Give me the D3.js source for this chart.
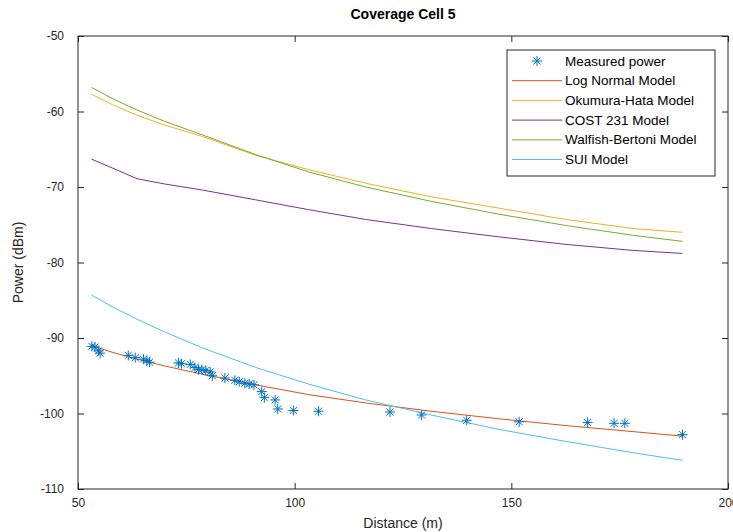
<!DOCTYPE html>
<html>
<head>
<meta charset="utf-8">
<script src="https://cdn.jsdelivr.net/npm/d3@7"></script>
<style>
  body { margin: 0; background: #fff; }
  svg text { font-family: "Liberation Sans", Arial, Helvetica, sans-serif; fill: #262626; }
</style>
</head>
<body>
<script>
// Coverage Cell 5 - measured power vs propagation models
const w = 733, h = 532

// measured samples (distance m, power dBm)
const measDist = [53.2, 53.9, 54.7, 55.1, 61.6, 63.2, 65.1, 65.9, 66.5, 73.2, 73.9, 75.9, 77.0, 77.8, 78.6,
                  79.5, 80.5, 81.0, 83.9, 86.2, 87.2, 88.5, 89.5, 90.6, 92.4, 93.0, 95.5, 96.1, 99.7, 105.5,
                  122.0, 129.3, 139.7, 151.8, 167.6, 173.7, 176.2, 189.5]
const measPower = [-91.1, -91.2, -91.7, -92.0, -92.3, -92.6, -92.8, -93.0, -93.2, -93.3, -93.4, -93.5, -93.9, -94.2, -94.2,
                   -94.3, -94.5, -95.0, -95.3, -95.6, -95.8, -96.0, -96.1, -96.2, -97.1, -97.9, -98.2, -99.4, -99.6, -99.7,
                   -99.8, -100.2, -100.9, -101.1, -101.2, -101.3, -101.3, -102.8]

// model curves, sampled at these distances
const modelDist = [53.1, 58, 63.6, 70, 78.7, 91.0, 103.2, 116.4, 131.5, 147.1, 162.6, 178.1, 189.5]
const logNormal = [-91.0, -91.9, -92.8, -93.7, -94.8, -96.2, -97.5, -98.6, -99.7, -100.7, -101.6, -102.4, -103.0]
const okumuraHata = [-57.7, -59.1, -60.5, -61.8, -63.3, -65.8, -67.7, -69.5, -71.3, -72.8, -74.3, -75.5, -76.0]
const cost231 = [-66.3, -67.5, -68.9, -69.6, -70.4, -71.7, -73.0, -74.3, -75.5, -76.6, -77.6, -78.4, -78.8]
const walfishBertoni = [-56.8, -58.3, -59.8, -61.3, -63.1, -65.7, -68.0, -70.0, -71.9, -73.6, -75.1, -76.4, -77.2]
const sui = [-84.3, -85.9, -87.5, -89.2, -91.3, -93.9, -96.1, -98.2, -100.2, -102.1, -103.7, -105.2, -106.2]

const xTicks = [50, 100, 150, 200]
const yTicks = [-50, -60, -70, -80, -90, -100, -110]

const models = [
  { name: "Log Normal Model", values: logNormal, color: "#D95319" },
  { name: "Okumura-Hata Model", values: okumuraHata, color: "#EDB120" },
  { name: "COST 231 Model", values: cost231, color: "#7E2F8E" },
  { name: "Walfish-Bertoni Model", values: walfishBertoni, color: "#77AC30" },
  { name: "SUI Model", values: sui, color: "#4DBEEE" }
]

const plotL = 78, plotR = 728, plotT = 36, plotB = 489

const svg = d3.select("body").append("svg")
  .attr("width", w)
  .attr("height", h)

const xScale = d3.scaleLinear().domain([50, 200]).range([plotL, plotR])
const yScale = d3.scaleLinear().domain([-110, -50]).range([plotB, plotT])

// plain hyphen minus like matlab
const fmt = (d) => String(d)

// axes, ticks pointing inward like matlab
svg.append("g")
  .attr("transform", "translate(0," + plotB + ")")
  .call(d3.axisBottom(xScale).tickValues(xTicks).tickFormat(fmt).tickSizeInner(-6).tickSizeOuter(0).tickPadding(9))
svg.append("g")
  .attr("transform", "translate(0," + plotT + ")")
  .call(d3.axisTop(xScale).tickValues(xTicks).tickSizeInner(-6).tickSizeOuter(0).tickFormat(""))
svg.append("g")
  .attr("transform", "translate(" + plotL + ",0)")
  .call(d3.axisLeft(yScale).tickValues(yTicks).tickFormat(fmt).tickSizeInner(-6).tickSizeOuter(0).tickPadding(14))
svg.append("g")
  .attr("transform", "translate(" + plotR + ",0)")
  .call(d3.axisRight(yScale).tickValues(yTicks).tickSizeInner(-6).tickSizeOuter(0).tickFormat(""))

svg.selectAll(".domain").remove()
svg.selectAll(".tick line").attr("stroke", "#262626")
svg.selectAll(".tick text").attr("font-size", 12).attr("fill", "#262626")

svg.append("rect")
  .attr("x", plotL).attr("y", plotT)
  .attr("width", plotR - plotL).attr("height", plotB - plotT)
  .attr("fill", "none")
  .attr("stroke", "#262626")
  .attr("stroke-width", 1)

// model lines
const line = d3.line()
  .x((d) => xScale(d[0]))
  .y((d) => yScale(d[1]))

models.forEach((m) => {
  svg.append("path")
     .datum(modelDist.map((d, i) => [d, m.values[i]]))
     .attr("d", line)
     .attr("fill", "none")
     .attr("stroke", m.color)
     .attr("stroke-width", 1)
})

// asterisk marker
const r = 5, a = r * 0.707
const star = `M${-r},0L${r},0M0,${-r}L0,${r}M${-a},${-a}L${a},${a}M${-a},${a}L${a},${-a}`

svg.selectAll(".meas")
   .data(measDist.map((d, i) => [d, measPower[i]]))
   .enter()
   .append("path")
   .attr("class", "meas")
   .attr("transform", (d) => "translate(" + xScale(d[0]) + "," + yScale(d[1]) + ")")
   .attr("d", star)
   .attr("fill", "none")
   .attr("stroke", "#0072BD")
   .attr("stroke-width", 1)

// labels
svg.append("text")
   .attr("x", (plotL + plotR) / 2).attr("y", 19)
   .attr("text-anchor", "middle")
   .attr("font-size", 14)
   .attr("font-weight", "bold")
   .style("fill", "#000")
   .text("Coverage Cell 5")

svg.append("text")
   .attr("x", (plotL + plotR) / 2).attr("y", 528)
   .attr("text-anchor", "middle")
   .attr("font-size", 14)
   .text("Distance (m)")

svg.append("text")
   .attr("transform", "translate(23," + ((plotT + plotB) / 2) + ") rotate(-90)")
   .attr("text-anchor", "middle")
   .attr("font-size", 14)
   .text("Power (dBm)")

// legend
const lg = svg.append("g")
lg.append("rect")
  .attr("x", 507).attr("y", 50)
  .attr("width", 208).attr("height", 126)
  .attr("fill", "#fff")
  .attr("stroke", "#262626")
  .attr("stroke-width", 1)

const rowY = (i) => 61 + i * 19.7
lg.append("path")
  .attr("transform", "translate(537," + rowY(0) + ")")
  .attr("d", star)
  .attr("fill", "none")
  .attr("stroke", "#0072BD")
lg.append("text")
  .attr("x", 565).attr("y", rowY(0) + 4.5)
  .attr("font-size", 13.5)
  .style("fill", "#000")
  .text("Measured power")

models.forEach((m, i) => {
  lg.append("line")
    .attr("x1", 512).attr("x2", 562)
    .attr("y1", rowY(i + 1)).attr("y2", rowY(i + 1))
    .attr("stroke", m.color)
  lg.append("text")
    .attr("x", 565).attr("y", rowY(i + 1) + 4.5)
    .attr("font-size", 13.5)
    .style("fill", "#000")
    .text(m.name)
})
</script>
</body>
</html>
